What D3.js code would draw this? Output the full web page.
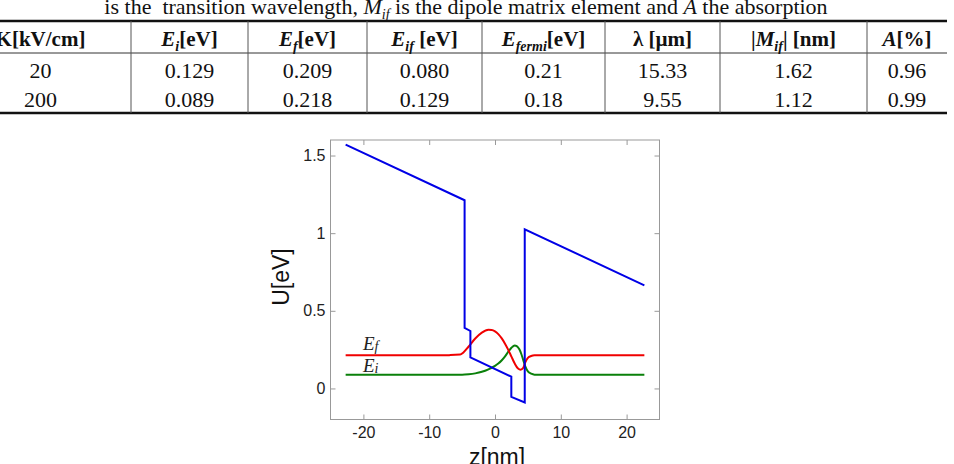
<!DOCTYPE html>
<html>
<head>
<meta charset="utf-8">
<script src="https://cdn.jsdelivr.net/npm/d3@7"></script>
<style>
  body { margin: 0; background: #fff; }
  svg { display: block; }
</style>
</head>
<body>
<div id="chart"></div>
<script>
"use strict";

// === Table data ===
const captionParts = [
  { t: "is the\u00a0 transition wavelength, " },
  { t: "M", i: true }, { t: "if", i: true, sub: true },
  { t: " is the dipole matrix element and " },
  { t: "A", i: true },
  { t: " the absorption" }
];
const tableHeaders = [
  [{ t: "K[kV/cm]" }],
  [{ t: "E", i: true }, { t: "i", i: true, sub: true }, { t: "[eV]" }],
  [{ t: "E", i: true }, { t: "f", i: true, sub: true }, { t: "[eV]" }],
  [{ t: "E", i: true }, { t: "if", i: true, sub: true }, { t: " [eV]" }],
  [{ t: "E", i: true }, { t: "fermi", i: true, sub: true }, { t: "[eV]" }],
  [{ t: "λ [µm]" }],
  [{ t: "|" }, { t: "M", i: true }, { t: "if", i: true, sub: true }, { t: "| [nm]" }],
  [{ t: "A", i: true }, { t: "[%]" }]
];
const tableRow1 = ["20", "0.129", "0.209", "0.080", "0.21", "15.33", "1.62", "0.96"];
const tableRow2 = ["200", "0.089", "0.218", "0.129", "0.18", "9.55", "1.12", "0.99"];

// === Chart data ===
// conduction band potential U(z)
const potZ = [-22.7, -4.62, -4.62, -3.74, -3.74, 2.48, 2.48, 4.52, 4.52, 22.7];
const potU = [1.570, 1.212, 0.390, 0.370, 0.200, 0.076, -0.054, -0.090, 1.025, 0.664];

// final state E_f (drawn at its level)
const efZ = [-22.7, -7.0, -6.8, -5.3, -4.8, -4.0, -3.0, -2.0, -1.0, -0.5, 0, 0.5, 1.0, 1.5,
             2.0, 2.5, 3.0, 3.5, 3.9, 4.3, 4.6, 5.0, 5.5, 6.0, 22.7];
const efU = [0.213, 0.213, 0.216, 0.218, 0.232, 0.270, 0.322, 0.360, 0.378, 0.377, 0.368, 0.350,
             0.324, 0.290, 0.250, 0.205, 0.160, 0.128, 0.121, 0.133, 0.168, 0.197, 0.209, 0.213, 0.213];

// initial state E_i
const eiZ = [-22.7, -5.0, -4.0, -3.0, -2.0, -1.0, 0, 0.5, 1.0, 1.5, 2.0, 2.5, 3.0, 3.3,
             3.7, 4.0, 4.3, 4.6, 5.0, 5.5, 6.0, 22.7];
const eiU = [0.088, 0.088, 0.091, 0.097, 0.107, 0.123, 0.145, 0.160, 0.180, 0.205, 0.235, 0.262,
             0.277, 0.273, 0.252, 0.222, 0.182, 0.142, 0.110, 0.095, 0.089, 0.088];

const xTicks = [-20, -10, 0, 10, 20];
const yTicks = [0, 0.5, 1, 1.5];

// === SVG setup ===
const svgWidth = 954, svgHeight = 464;
const svg = d3.select("#chart")
  .append("svg")
  .attr("width", svgWidth)
  .attr("height", svgHeight);

const serif = "'Liberation Serif', 'Times New Roman', serif";
const sans = "'Liberation Sans', Arial, sans-serif";

// writes a list of text pieces (italic / subscript) into a text element
function writeParts(textSel, parts, subSize) {
  parts.forEach((p, k) => {
    const prev = k > 0 ? parts[k - 1] : null;
    const ts = textSel.append("tspan").text(p.t);
    if (p.i) ts.attr("font-style", "italic");
    if (p.sub) ts.attr("font-size", subSize).attr("dy", 5);
    else if (prev && prev.sub) ts.attr("dy", -5);
  });
}

// === Caption line (cut at top, like the page it came from) ===
const caption = svg.append("text")
  .attr("x", 466)
  .attr("y", 14)
  .attr("text-anchor", "middle")
  .attr("font-family", serif)
  .attr("font-size", 22)
  .attr("fill", "#111");
writeParts(caption, captionParts, 14);

// === Table ===
const colEdges = [-50, 131, 248, 367, 482, 605, 720, 867, 947];
const colCenter = i => (colEdges[i] + colEdges[i + 1]) / 2;

const table = svg.append("g");
table.append("line").attr("x1", 0).attr("x2", 947).attr("y1", 21).attr("y2", 21)
  .attr("stroke", "#111").attr("stroke-width", 2.5);
table.append("line").attr("x1", 0).attr("x2", 947).attr("y1", 53).attr("y2", 53)
  .attr("stroke", "#333").attr("stroke-width", 1);
table.append("line").attr("x1", 0).attr("x2", 947).attr("y1", 113).attr("y2", 113)
  .attr("stroke", "#111").attr("stroke-width", 2.5);

colEdges.slice(1, -1).forEach(x => {
  table.append("line")
    .attr("x1", x).attr("x2", x).attr("y1", 21).attr("y2", 113)
    .attr("stroke", "#555").attr("stroke-width", 1);
});

tableHeaders.forEach((h, i) => {
  const t = table.append("text")
    .attr("x", colCenter(i))
    .attr("y", 46)
    .attr("text-anchor", "middle")
    .attr("font-family", serif)
    .attr("font-weight", "bold")
    .attr("font-size", 21)
    .attr("fill", "#111");
  writeParts(t, h, 14);
});

[tableRow1, tableRow2].forEach((row, r) => {
  row.forEach((v, i) => {
    table.append("text")
      .attr("x", colCenter(i))
      .attr("y", 78 + r * 29)
      .attr("text-anchor", "middle")
      .attr("font-family", serif)
      .attr("font-size", 22)
      .attr("fill", "#111")
      .text(v);
  });
});

// === Plot scales ===
const plot = { left: 330.5, right: 659.5, top: 140, bottom: 419.5 };

const xScale = d3.scaleLinear()
  .domain([-25, 25])
  .range([plot.left, plot.right]);

const yScale = d3.scaleLinear()
  .domain([-0.2, 1.6])
  .range([plot.bottom, plot.top]);

// === Axes (MATLAB style box, ticks inside) ===
const axisColor = "#999";

function styleAxis(g) {
  g.select(".domain").remove();
  g.selectAll(".tick line").attr("stroke", axisColor);
  g.selectAll(".tick text")
    .attr("fill", "#222")
    .attr("font-family", sans)
    .attr("font-size", 16);
}

svg.append("g")
  .attr("transform", `translate(0, ${plot.bottom})`)
  .call(d3.axisBottom(xScale).tickValues(xTicks).tickSizeInner(-5).tickSizeOuter(0).tickPadding(7)
    .tickFormat(d => String(d)))
  .call(styleAxis);

svg.append("g")
  .attr("transform", `translate(0, ${plot.top})`)
  .call(d3.axisTop(xScale).tickValues(xTicks).tickSizeInner(-5).tickSizeOuter(0).tickFormat(""))
  .call(styleAxis);

svg.append("g")
  .attr("transform", `translate(${plot.left}, 0)`)
  .call(d3.axisLeft(yScale).tickValues(yTicks).tickSizeInner(-5).tickSizeOuter(0).tickPadding(5)
    .tickFormat(d => String(d)))
  .call(styleAxis);

svg.append("g")
  .attr("transform", `translate(${plot.right}, 0)`)
  .call(d3.axisRight(yScale).tickValues(yTicks).tickSizeInner(-5).tickSizeOuter(0).tickFormat(""))
  .call(styleAxis);

svg.append("rect")
  .attr("x", plot.left)
  .attr("y", plot.top)
  .attr("width", plot.right - plot.left)
  .attr("height", plot.bottom - plot.top)
  .attr("fill", "none")
  .attr("stroke", axisColor)
  .attr("stroke-width", 1);

// === Axis labels ===
svg.append("text")
  .attr("x", 497)
  .attr("y", 465)
  .attr("text-anchor", "middle")
  .attr("font-family", sans)
  .attr("font-size", 23)
  .attr("fill", "#111")
  .text("z[nm]");

svg.append("text")
  .attr("transform", "rotate(-90)")
  .attr("x", -277)
  .attr("y", 289)
  .attr("text-anchor", "middle")
  .attr("font-family", sans)
  .attr("font-size", 23)
  .attr("fill", "#111")
  .text("U[eV]");

// === Curves ===
const toPts = (zs, us) => zs.map((z, k) => [z, us[k]]);

const straight = d3.line()
  .x(d => xScale(d[0]))
  .y(d => yScale(d[1]));

const smooth = d3.line()
  .x(d => xScale(d[0]))
  .y(d => yScale(d[1]))
  .curve(d3.curveMonotoneX);

svg.append("path")
  .attr("d", smooth(toPts(eiZ, eiU)))
  .attr("fill", "none")
  .attr("stroke", "#0a800a")
  .attr("stroke-width", 2);

svg.append("path")
  .attr("d", smooth(toPts(efZ, efU)))
  .attr("fill", "none")
  .attr("stroke", "#f00000")
  .attr("stroke-width", 2);

svg.append("path")
  .attr("d", straight(toPts(potZ, potU)))
  .attr("fill", "none")
  .attr("stroke", "#0000e6")
  .attr("stroke-width", 2);

// === Level labels ===
const levelLabels = [
  { main: "E", sub: "f", y: 350 },
  { main: "E", sub: "i", y: 372 }
];
levelLabels.forEach(l => {
  const t = svg.append("text")
    .attr("x", 363)
    .attr("y", l.y)
    .attr("font-family", serif)
    .attr("font-style", "italic")
    .attr("font-size", 19)
    .attr("fill", "#222");
  t.append("tspan").text(l.main);
  t.append("tspan").attr("font-size", 14).attr("dy", 1).text(l.sub);
});
</script>
</body>
</html>
